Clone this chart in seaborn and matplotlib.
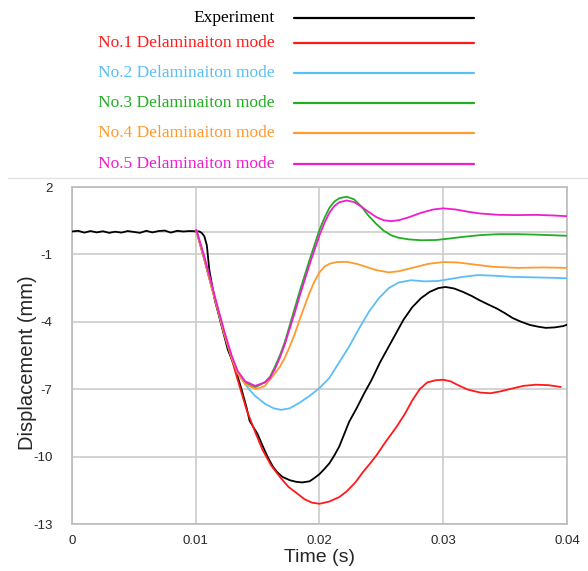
import numpy as np
import pandas as pd
import seaborn as sns
import matplotlib.pyplot as plt
from matplotlib.lines import Line2D

# data (time in s, displacement in mm)
exp_t = [0.0, 0.0005, 0.001, 0.0015, 0.002, 0.0025, 0.003, 0.0035, 0.004, 0.0045, 0.005,
         0.0055, 0.006, 0.0065, 0.007, 0.0075, 0.008, 0.0085, 0.009, 0.0095, 0.0100, 0.0103,
         0.0105, 0.0107, 0.0109, 0.0111, 0.01153, 0.0121, 0.0126, 0.01315, 0.0137, 0.0141,
         0.01435, 0.0150, 0.01543, 0.0158, 0.01624, 0.0166, 0.0170, 0.0176, 0.0181, 0.0186,
         0.0192, 0.0196, 0.0200, 0.0204, 0.0208, 0.0212, 0.0216, 0.0220, 0.0224, 0.0230,
         0.0236, 0.0242, 0.0249, 0.0256, 0.0262, 0.0268, 0.0275, 0.0282, 0.0289, 0.0296,
         0.0302, 0.0309, 0.0316, 0.0323, 0.0329, 0.0336, 0.0343, 0.0350, 0.0356, 0.0363,
         0.0370, 0.0377, 0.0383, 0.0390, 0.0397, 0.0400]
exp_y = [0.02, 0.05, -0.03, 0.04, -0.02, 0.03, -0.04, 0.01, -0.03, 0.04, 0.00,
         -0.04, 0.05, -0.02, 0.04, 0.06, -0.03, 0.05, 0.02, 0.04, 0.03, 0.02,
         -0.05, -0.2, -0.6, -1.7, -3.0, -4.2, -5.25, -6.0, -7.0, -7.8,
         -8.4, -9.0, -9.55, -10.0, -10.45, -10.7, -10.9, -11.05, -11.12, -11.15,
         -11.1, -10.95, -10.78, -10.55, -10.3, -9.95, -9.55, -9.0, -8.45, -7.85,
         -7.2, -6.6, -5.8, -5.1, -4.5, -3.9, -3.35, -2.95, -2.67, -2.5,
         -2.45, -2.52, -2.67, -2.85, -3.03, -3.22, -3.4, -3.62, -3.83, -4.0,
         -4.14, -4.22, -4.27, -4.25, -4.19, -4.13]

m1_t = [0.0100, 0.01005, 0.0107, 0.0113, 0.0118, 0.0123, 0.0129, 0.0134, 0.0141, 0.0148,
        0.0154, 0.0161, 0.0168, 0.0175, 0.0181, 0.0188, 0.0194, 0.0200, 0.0208, 0.0216,
        0.0222, 0.0229, 0.0235, 0.0241, 0.0246, 0.0254, 0.0262, 0.0269, 0.0275, 0.0281,
        0.0287, 0.0294, 0.0300, 0.0306, 0.0312, 0.0320, 0.0330, 0.0338, 0.0346, 0.0355,
        0.0365, 0.0375, 0.0385, 0.0395]
m1_y = [0.0, 0.05, -1.25, -2.5, -3.5, -4.55, -5.65, -6.6, -7.9, -8.9,
        -9.7, -10.4, -10.9, -11.35, -11.6, -11.9, -12.05, -12.1, -12.0, -11.8,
        -11.55, -11.15, -10.7, -10.3, -9.95, -9.3, -8.7, -8.1, -7.5, -7.0,
        -6.7, -6.6, -6.58, -6.65, -6.82, -7.02, -7.15, -7.18, -7.1, -6.98,
        -6.85, -6.8, -6.82, -6.9]

m2_t = [0.0100, 0.01005, 0.0107, 0.0113, 0.0118, 0.0123, 0.0129, 0.0134, 0.0138, 0.0143,
        0.0148, 0.0156, 0.0163, 0.0169, 0.0176, 0.0184, 0.0192, 0.0200, 0.0208, 0.0216,
        0.0224, 0.0232, 0.0240, 0.0248, 0.0256, 0.0264, 0.0274, 0.0285, 0.0296, 0.0305,
        0.0316, 0.0328, 0.0342, 0.0356, 0.0380, 0.0400]
m2_y = [0.0, 0.05, -1.2, -2.45, -3.47, -4.5, -5.57, -6.28, -6.6, -7.0,
        -7.3, -7.65, -7.85, -7.92, -7.85, -7.6, -7.3, -6.95, -6.5, -5.8,
        -5.1, -4.3, -3.55, -2.95, -2.5, -2.25, -2.15, -2.2, -2.18, -2.1,
        -2.0, -1.92, -1.95, -2.0, -2.03, -2.06]

m3_t = [0.0100, 0.01005, 0.0107, 0.0113, 0.0118, 0.0123, 0.0129, 0.0134, 0.0140, 0.0148,
        0.0156, 0.0160, 0.0164, 0.0168, 0.0172, 0.0176, 0.0180, 0.0184, 0.0188, 0.0192,
        0.0196, 0.0200, 0.0204, 0.0208, 0.0212, 0.0216, 0.0222, 0.0228, 0.0234, 0.0240,
        0.0246, 0.0252, 0.0258, 0.0264, 0.0272, 0.0282, 0.0294, 0.0304, 0.0316, 0.0330,
        0.0345, 0.0360, 0.0375, 0.0390, 0.0400]
m3_y = [0.0, 0.05, -1.2, -2.45, -3.47, -4.5, -5.57, -6.28, -6.72, -6.92,
        -6.68, -6.45, -6.0, -5.5, -4.9, -4.15, -3.4, -2.65, -1.95, -1.25,
        -0.58, 0.09, 0.62, 1.07, 1.35, 1.5, 1.57, 1.45, 1.12, 0.7,
        0.35, 0.05, -0.15, -0.26, -0.33, -0.37, -0.36, -0.3, -0.22, -0.14,
        -0.1, -0.1, -0.12, -0.15, -0.17]

m4_t = [0.0100, 0.01005, 0.0107, 0.0113, 0.0118, 0.0123, 0.0129, 0.0134, 0.0140, 0.0149,
        0.0156, 0.0164, 0.0168, 0.0172, 0.0176, 0.0180, 0.0184, 0.0188, 0.0192, 0.0196,
        0.0200, 0.0204, 0.0208, 0.0214, 0.0222, 0.0230, 0.0238, 0.0246, 0.0256, 0.0264,
        0.0275, 0.0288, 0.0300, 0.0312, 0.0325, 0.0340, 0.0360, 0.0380, 0.0400]
m4_y = [0.0, 0.05, -1.2, -2.45, -3.47, -4.5, -5.57, -6.3, -6.78, -7.0,
        -6.85, -6.3, -6.0, -5.6, -5.1, -4.55, -3.9, -3.3, -2.7, -2.2,
        -1.8, -1.55, -1.42, -1.34, -1.33, -1.42, -1.56, -1.7, -1.8, -1.75,
        -1.6, -1.42, -1.34, -1.36, -1.45, -1.55, -1.6, -1.58, -1.6]

m5_t = [0.0100, 0.01005, 0.0107, 0.0113, 0.0118, 0.0123, 0.0129, 0.0134, 0.0140, 0.0148,
        0.0156, 0.0160, 0.0164, 0.0168, 0.0172, 0.0176, 0.0180, 0.0184, 0.0188, 0.0192,
        0.0196, 0.0200, 0.0204, 0.0208, 0.0212, 0.0216, 0.0222, 0.0228, 0.0234, 0.0240,
        0.0246, 0.0252, 0.0258, 0.0264, 0.0272, 0.0282, 0.0292, 0.0300, 0.0310, 0.0320,
        0.0330, 0.0345, 0.0360, 0.0375, 0.0390, 0.0400]
m5_y = [0.0, 0.1, -1.1, -2.35, -3.4, -4.4, -5.5, -6.2, -6.65, -6.85,
        -6.7, -6.5, -6.1, -5.6, -5.0, -4.3, -3.6, -2.85, -2.15, -1.45,
        -0.8, -0.15, 0.4, 0.85, 1.15, 1.32, 1.4, 1.33, 1.12, 0.88,
        0.66, 0.52, 0.48, 0.52, 0.65, 0.85, 1.0, 1.05, 1.0, 0.9,
        0.82, 0.76, 0.75, 0.76, 0.73, 0.7]

labels = ["Experiment", "No.1 Delaminaiton mode", "No.2 Delaminaiton mode",
          "No.3 Delaminaiton mode", "No.4 Delaminaiton mode", "No.5 Delaminaiton mode"]
colors = ["#000000", "#ff1a1a", "#5bbff5", "#22ad22", "#ff9a2e", "#f01cd0"]
series = [(exp_t, exp_y), (m1_t, m1_y), (m2_t, m2_y),
          (m3_t, m3_y), (m4_t, m4_y), (m5_t, m5_y)]

sns.set_style("white")
plt.rcParams['font.family'] = ['Liberation Sans', 'DejaVu Sans']
plt.rcParams['axes.unicode_minus'] = False

fig = plt.figure(figsize=(5.88, 5.71), dpi=100)
ax = fig.add_axes([0.1224, 0.0823, 0.8418, 0.5902])

grid_c = "#cccccc"
for (t, y), c in zip(series, colors):
    df = pd.DataFrame({"t": t, "y": y})
    sns.lineplot(data=df, x="t", y="y", color=c, lw=1.3, sort=False,
                 estimator=None, ax=ax, zorder=3)

ax.set_xlim(0, 0.04)
ax.set_ylim(-13, 2)
ax.set_xticks([0, 0.01, 0.02, 0.03, 0.04])
ax.set_xticklabels(["0", "0.01", "0.02", "0.03", "0.04"])
ax.set_yticks([2, -1, -4, -7, -10, -13])
ax.grid(True, color=grid_c, lw=1.2)
ax.axhline(0, color=grid_c, lw=1.2, zorder=1)
for s in ax.spines.values():
    s.set_color("#bbbbbb")
    s.set_linewidth(1.2)
ax.tick_params(length=0, labelsize=9.5, pad=8)
ax.tick_params(axis="y", pad=14)
ax.set_xlabel("Time (s)", fontsize=14, labelpad=1)
ax.set_ylabel("Displacement (mm)", fontsize=14.5)
ax.yaxis.set_label_coords(-0.071, 0.478)

# legend block drawn above the plot
legend_y = [18, 43, 73, 103, 133, 164]
H = 571.0
W = 588.0
for lab, c, yy in zip(labels, colors, legend_y):
    fig.text(275 / W, 1 - yy / H, lab, color=c, ha="right", va="center",
             fontsize=12.5, family=["Liberation Serif", "DejaVu Serif"])
    fig.add_artist(Line2D([294 / W, 474 / W], [1 - yy / H, 1 - yy / H],
                          color=c, lw=1.6, transform=fig.transFigure))
fig.add_artist(Line2D([8 / W, 1.0], [1 - 178 / H, 1 - 178 / H],
                      color="#e3e3e3", lw=1.0, transform=fig.transFigure))

fig.savefig("out.png", dpi=100)
